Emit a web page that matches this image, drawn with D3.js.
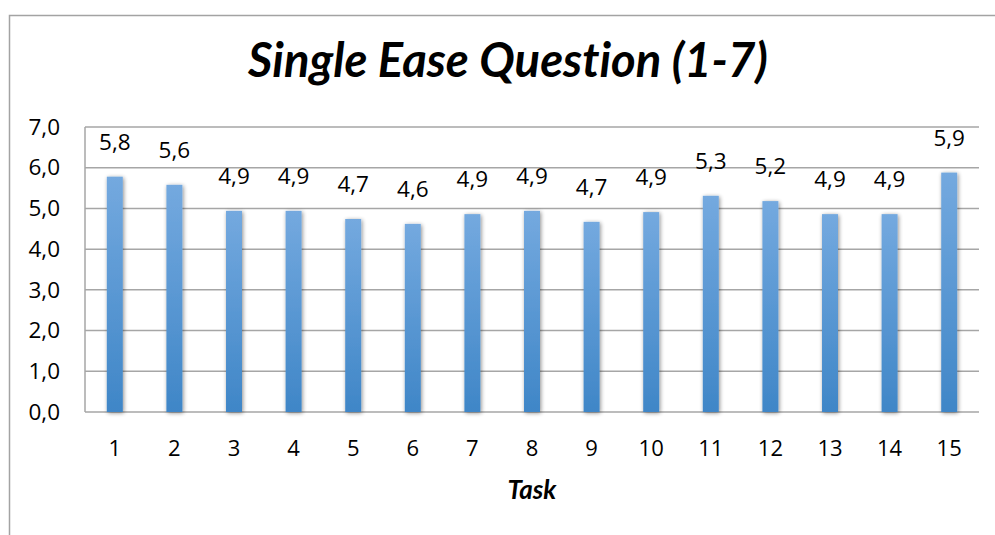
<!DOCTYPE html>
<html>
<head>
<meta charset="utf-8">
<script src="https://cdn.jsdelivr.net/npm/d3@7"></script>
<style>
  html, body { margin: 0; padding: 0; background: #fff; }
  svg { display: block; }
  text { font-variant-ligatures: none; font-feature-settings: "liga" 0, "clig" 0; }
</style>
</head>
<body>
<script>
// Mean SEQ score per task (scale 1-7)
const tasks = ["1","2","3","4","5","6","7","8","9","10","11","12","13","14","15"];
const scores = [5.78, 5.58, 4.94, 4.94, 4.74, 4.62, 4.86, 4.94, 4.67, 4.91, 5.31, 5.18, 4.86, 4.86, 5.88];
const yTicks = [0, 1, 2, 3, 4, 5, 6, 7];
const titleText = "Single Ease Question (1-7)";
const xTitle = "Task";

const W = 995, H = 535;
const margin = { left: 85, right: 16, top: 127, bottom: 123 };
const fontFam = "'Open Sans', 'DejaVu Sans', sans-serif";
const titleFam = "Lato, 'Open Sans', sans-serif";
const comma = v => d3.format(".1f")(v).replace(".", ",");

const svg = d3.select("body").append("svg")
  .attr("width", W).attr("height", H);

svg.append("rect").attr("width", W).attr("height", H).attr("fill", "#fff");

// Gradient fill and soft shadow for the columns
const defs = svg.append("defs");
const grad = defs.append("linearGradient")
  .attr("id", "barGrad").attr("x1", 0).attr("y1", 0).attr("x2", 0).attr("y2", 1);
grad.append("stop").attr("offset", "0%").attr("stop-color", "#74a9df");
grad.append("stop").attr("offset", "100%").attr("stop-color", "#3f86c7");

const shadow = defs.append("filter").attr("id", "barShadow")
  .attr("x", "-60%").attr("y", "-10%").attr("width", "220%").attr("height", "120%");
shadow.append("feGaussianBlur").attr("in", "SourceAlpha").attr("stdDeviation", 2.2).attr("result", "blur");
shadow.append("feOffset").attr("in", "blur").attr("dx", 1).attr("dy", 1).attr("result", "off");
shadow.append("feComponentTransfer").attr("in", "off").attr("result", "soft")
  .append("feFuncA").attr("type", "linear").attr("slope", 0.45);
const merge = shadow.append("feMerge");
merge.append("feMergeNode").attr("in", "soft");
merge.append("feMergeNode").attr("in", "SourceGraphic");

// Outer chart frame
svg.append("rect")
  .attr("x", 9.5).attr("y", 15.5)
  .attr("width", W + 20).attr("height", H + 20)
  .attr("fill", "none").attr("stroke", "#a3a3a3").attr("stroke-width", 1.5);

const x = d3.scaleBand()
  .domain(tasks)
  .range([margin.left, W - margin.right])
  .paddingInner(0.732).paddingOuter(0.366);

const y = d3.scaleLinear()
  .domain([0, 7])
  .range([H - margin.bottom, margin.top]);

// Horizontal gridlines
svg.append("g")
  .selectAll("line")
  .data(yTicks)
  .join("line")
  .attr("x1", margin.left).attr("x2", W - margin.right)
  .attr("y1", d => y(d)).attr("y2", d => y(d))
  .attr("stroke", "#a6a6a6").attr("stroke-width", 1.5);

// Vertical axis line
svg.append("line")
  .attr("x1", margin.left).attr("x2", margin.left)
  .attr("y1", y(7)).attr("y2", y(0))
  .attr("stroke", "#a6a6a6").attr("stroke-width", 1.5);

// Y axis labels
const yAxis = d3.axisLeft(y).tickValues(yTicks).tickFormat(comma).tickSize(0).tickPadding(25);
const gy = svg.append("g").attr("transform", `translate(${margin.left},0)`).call(yAxis);
gy.select(".domain").remove();
gy.selectAll("text")
  .attr("font-family", fontFam).attr("font-size", 22.5).attr("fill", "#000");

// X axis labels
const xAxis = d3.axisBottom(x).tickSize(0).tickPadding(28);
const gx = svg.append("g").attr("transform", `translate(0,${y(0)})`).call(xAxis);
gx.select(".domain").remove();
gx.selectAll("text")
  .attr("font-family", fontFam).attr("font-size", 22).attr("fill", "#000");

// Columns
svg.append("g")
  .selectAll("rect")
  .data(scores)
  .join("rect")
  .attr("x", (d, i) => x(tasks[i]))
  .attr("width", x.bandwidth())
  .attr("y", d => y(d))
  .attr("height", d => y(0) - y(d))
  .attr("fill", "url(#barGrad)")
  .attr("filter", "url(#barShadow)");

// Value labels
svg.append("g")
  .selectAll("text")
  .data(scores)
  .join("text")
  .attr("x", (d, i) => x(tasks[i]) + x.bandwidth() / 2)
  .attr("y", d => y(d) - 27)
  .attr("text-anchor", "middle")
  .attr("font-family", fontFam).attr("font-size", 22.5).attr("fill", "#000")
  .text(comma);

// Chart title
const title = svg.append("text")
  .attr("x", 508).attr("y", 77)
  .attr("text-anchor", "middle")
  .attr("font-family", titleFam).attr("font-size", 40)
  .attr("font-weight", "bold").attr("font-style", "italic").attr("fill", "#000")
  .text(titleText);
const tw = title.node().getComputedTextLength();
if (tw > 0) title.attr("font-size", 40 * 520 / tw);

// Axis title
svg.append("text")
  .attr("x", (margin.left + W - margin.right) / 2).attr("y", 499)
  .attr("text-anchor", "middle")
  .attr("font-family", titleFam).attr("font-size", 26)
  .attr("font-weight", "bold").attr("font-style", "italic").attr("fill", "#000")
  .text(xTitle);
</script>
</body>
</html>
